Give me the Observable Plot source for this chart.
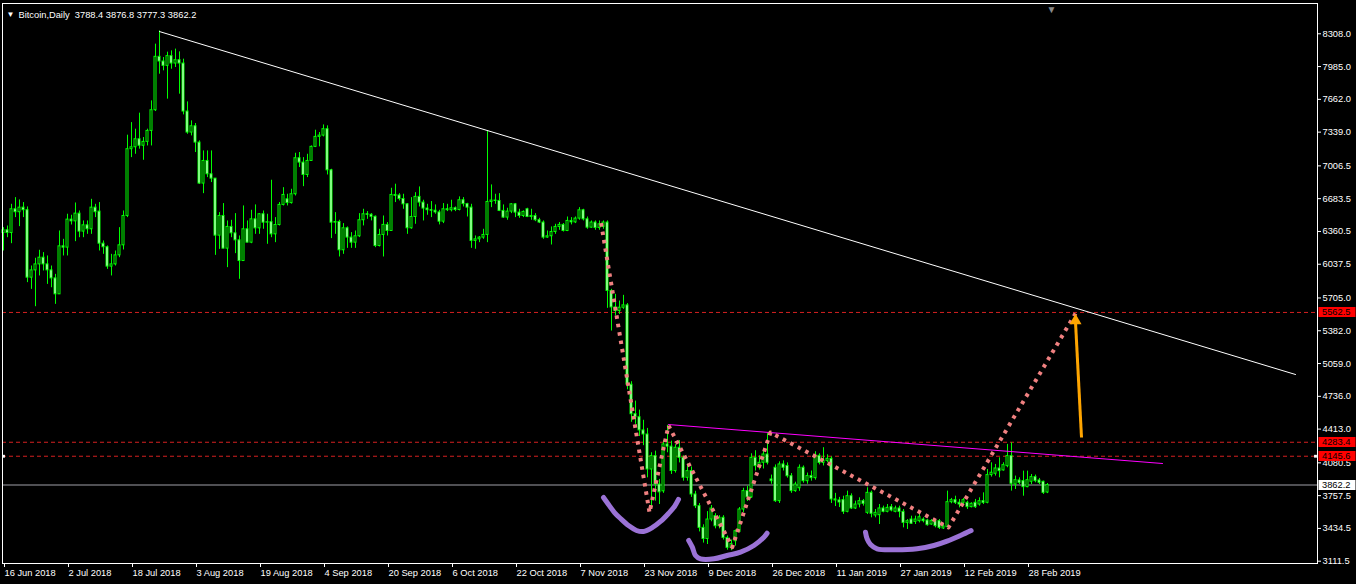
<!DOCTYPE html>
<html><head><meta charset="utf-8">
<script src="https://cdn.jsdelivr.net/npm/d3@7"></script>
<script src="https://cdn.jsdelivr.net/npm/@observablehq/plot@0.6"></script>
<style>
html,body{margin:0;padding:0;background:#000;overflow:hidden;}
#chart svg text{white-space:pre;}
</style></head><body><div id="chart"></div>
<script>
// ---- Daily OHLC bars (bar index 0 = 16 Jun 2018) ----
const opens = [
6345,6372,6345,6579,6550,6595,6570,5905,5977,6036,
6102,6036,5977,5898,5741,6214,6201,6477,6460,6536,
6359,6421,6382,6595,6556,6240,6205,6014,6036,6125,
6224,6513,7171,7190,7269,7205,7243,7351,7555,8081,
8035,7992,8088,8015,8048,8015,7542,7335,7397,7236,
6832,7055,6924,6881,6319,6513,6191,6405,6342,6273,
6069,6382,6250,6480,6391,6530,6447,6452,6332,6424,
6622,6677,6640,6727,7082,7039,6917,7055,7194,7292,
7305,7368,6963,6447,6454,6175,6392,6300,6250,6313,
6471,6530,6525,6505,6217,6326,6425,6365,6720,6715,
6680,6628,6392,6503,6701,6645,6586,6570,6565,6548,
6457,6579,6570,6589,6572,6668,6630,6595,6267,6283,
6300,6326,6651,6665,6661,6563,6497,6556,6628,6546,
6513,6579,6503,6513,6471,6448,6300,6313,6355,6405,
6425,6365,6464,6450,6487,6569,6480,6398,6448,6395,
6405,6448,5774,5612,5576,5609,5632,4850,4560,4530,
4400,4360,4015,4147,3867,3800,4262,4240,4000,4229,
4130,3933,3999,3769,3654,3440,3330,3522,3555,3456,
3539,3341,3243,3308,3400,3621,3802,3740,4130,4048,
4081,4163,3917,4032,3703,4065,4050,3949,3802,3830,
4032,3900,3950,3930,4150,4080,4100,4120,3720,3710,
3713,3598,3752,3631,3670,3703,3588,3785,3562,3565,
3631,3598,3644,3598,3631,3598,3489,3522,3499,3506,
3522,3512,3473,3506,3506,3434,3447,3693,3713,3687,
3687,3687,3644,3687,3670,3703,3687,3960,3973,4025,
4006,4048,4147,3867,3907,3900,3841,3894,3940,3907,
3894,3788.4];
const highs = [
6398,6414,6628,6694,6671,6645,6602,6020,6096,6175,
6152,6119,6020,5938,6365,6283,6530,6520,6641,6562,
6464,6464,6677,6628,6645,6267,6218,6135,6168,6398,
6562,7309,7433,7368,7526,7286,7368,7647,8206,8337,
8074,8127,8140,8157,8130,8058,7637,7450,7424,7253,
7154,7154,7154,6881,6546,6635,6464,6470,6536,6316,
6612,6464,6569,6622,6536,6562,6530,6865,6497,6645,
6792,6727,6776,7131,7138,7088,7121,7203,7358,7335,
7410,7401,6973,6546,6471,6438,6405,6349,6365,6536,
6579,6556,6536,6513,6382,6513,6448,6786,6826,6733,
6727,6635,6694,6743,6799,6668,6628,6655,6622,6569,
6635,6628,6668,6602,6701,6694,6638,6628,6316,6310,
6382,7352,6819,6727,6733,6622,6589,6635,6635,6579,
6563,6589,6579,6536,6490,6464,6365,6405,6431,6448,
6438,6503,6497,6503,6595,6579,6503,6464,6464,6464,
6464,6464,5790,5741,5675,5731,5650,4880,4689,4600,
4500,4420,4180,4196,3917,4300,4450,4294,4260,4300,
4150,4070,4040,3800,3680,3470,3600,3660,3580,3560,
3560,3360,3320,3420,3640,3830,3850,4170,4200,4150,
4200,4370,3960,4060,4090,4100,4080,3975,3890,4060,
4050,3980,4000,4190,4170,4230,4160,4140,3780,3740,
3752,3802,3775,3703,3736,3720,3835,3802,3621,3670,
3654,3670,3670,3654,3654,3621,3522,3555,3555,3572,
3539,3522,3522,3522,3522,3473,3802,3730,3752,3720,
3730,3703,3687,3720,3736,3785,4015,4081,4065,4130,
4081,4262,4278,3950,3933,3999,3999,3966,3960,3927,
3900,3876.8];
const lows = [
6168,6299,6240,6497,6408,6497,5856,5790,5619,5922,
5971,5839,5806,5642,5741,6119,6119,6424,6260,6299,
6299,6332,6332,6497,6168,6135,5987,5922,6020,6102,
6178,6497,7088,7121,7171,7062,7203,7203,7542,7910,
7943,7664,7959,7976,7713,7509,7318,7302,7138,6825,
6733,6891,6842,6125,6184,6191,6004,6299,6142,5889,
6069,6250,6240,6332,6332,6382,6234,6299,6250,6414,
6612,6612,6630,6710,6990,6802,6891,7055,7187,7194,
7292,6917,6290,6332,6109,6135,6194,6194,6194,6300,
6415,6480,6464,6201,6208,6109,6316,6365,6645,6661,
6579,6332,6382,6431,6602,6464,6520,6497,6530,6425,
6438,6556,6553,6556,6563,6602,6503,6194,6185,6250,
6283,6250,6595,6628,6556,6490,6471,6536,6497,6490,
6497,6497,6471,6457,6438,6283,6293,6227,6332,6372,
6355,6359,6425,6438,6471,6464,6382,6392,6372,6372,
6382,5603,5379,5527,5543,5593,4800,4480,4460,4340,
4250,3933,3620,3703,3670,3780,4180,3966,3980,4080,
3900,3900,3740,3630,3400,3290,3276,3500,3430,3430,
3320,3220,3215,3260,3390,3590,3700,3730,4000,4010,
4020,4060,3870,3690,3680,4000,3930,3780,3790,3800,
3880,3870,3900,3910,4060,4050,4080,3680,3650,3640,
3572,3588,3621,3621,3637,3654,3572,3539,3539,3473,
3588,3588,3598,3588,3539,3440,3424,3473,3473,3489,
3489,3457,3466,3440,3424,3424,3440,3677,3670,3637,
3670,3621,3637,3631,3654,3670,3677,3940,3950,3933,
3999,4032,3802,3818,3867,3752,3835,3867,3884,3867,
3769,3777.3];
const closes = [
6372,6345,6579,6550,6595,6570,5905,5977,6036,6102,
6036,5977,5898,5741,6214,6201,6477,6460,6536,6359,
6421,6382,6595,6550,6240,6205,6014,6036,6125,6224,
6513,7171,7190,7269,7205,7243,7351,7555,8081,8035,
7992,8088,8015,8048,8015,7542,7335,7397,7236,6832,
7055,6924,6881,6319,6513,6191,6405,6342,6273,6069,
6382,6250,6480,6391,6530,6447,6452,6332,6424,6622,
6720,6640,6727,7082,7039,6917,7055,7194,7292,7305,
7368,6963,6447,6454,6175,6392,6300,6250,6313,6471,
6530,6525,6505,6217,6326,6425,6365,6720,6712,6680,
6628,6392,6503,6701,6645,6586,6570,6565,6548,6457,
6579,6570,6589,6572,6668,6630,6595,6267,6283,6300,
6326,6651,6665,6661,6563,6497,6556,6628,6546,6513,
6553,6503,6513,6471,6448,6300,6313,6355,6405,6425,
6365,6464,6450,6487,6569,6480,6398,6448,6395,6431,
6448,5774,5612,5576,5609,5632,4850,4560,4530,4400,
4360,4015,4147,3867,3790,4262,4240,4000,4229,4130,
3933,3999,3769,3654,3440,3330,3522,3630,3456,3539,
3341,3243,3280,3407,3621,3802,3740,4130,4048,4081,
4163,4081,3900,3703,4065,4032,3949,3802,3867,4032,
3900,3950,3930,4150,4080,4100,4120,3720,3710,3690,
3598,3752,3631,3670,3703,3677,3785,3578,3588,3631,
3598,3637,3611,3631,3598,3489,3506,3480,3522,3545,
3506,3466,3506,3457,3440,3453,3693,3713,3687,3670,
3713,3644,3677,3644,3703,3687,3960,3983,4025,3999,
4058,4147,3874,3910,3884,3841,3910,3940,3900,3884,
3785,3862.2];

// ---- axes ----
const xTickIndex = [0,16,32,48,64,80,96,112,128,144,160,176,192,208,224,240,256];
const xTickLabels = ["16 Jun 2018","2 Jul 2018","18 Jul 2018","3 Aug 2018","19 Aug 2018","4 Sep 2018",
  "20 Sep 2018","6 Oct 2018","22 Oct 2018","7 Nov 2018","23 Nov 2018","9 Dec 2018","26 Dec 2018",
  "11 Jan 2019","27 Jan 2019","12 Feb 2019","28 Feb 2019"];
const yTicks = [8308.0,7985.0,7662.0,7339.0,7006.5,6683.5,6360.5,6037.5,5705.0,5382.0,5059.0,4736.0,4413.0,4080.5,3757.5,3434.5,3111.5];

// ---- drawn objects (bar index, price) ----
const hLevels = [5562.5, 4283.4, 4145.6];
const trendI = [39, 323];            const trendP = [8330, 4951];
const neckI = [166.25, 289.75];      const neckP = [4458, 4074];
const zigI = [149.4, 161.5, 166.25, 182.2, 191.75, 236.25, 268];
const zigP = [6442, 3591, 4448, 3250, 4380, 3444, 5552];
const cupAI = [150,151.25,152.75,154.25,156.25,158.25,160,162.25,164.25,166.25,167.75,168.75];
const cupAP = [3739,3670,3591,3532,3463,3414,3404,3444,3503,3582,3651,3720];
const cupBI = [171.3,172.2,173,174.25,177.6,180.9,184.25,187.6,190.1,190.9];
const cupBP = [3316,3250,3168,3135,3135,3168,3200,3266,3348,3387];
const cupCI = [215.5,215.9,216.75,218.4,222.6,228.4,232.6,235.9,239.25,241.9];
const cupCP = [3397,3332,3276,3234,3224,3234,3266,3309,3365,3414];
const arrowI = [269.5, 268];         const arrowP = [4330, 5550];

const bars = opens.map((o, i) => ({i, open: o, high: highs[i], low: lows[i], close: closes[i]}));
const last = bars[bars.length - 1];
const rows = (xs, ys) => xs.map((x, k) => ({i: x, price: ys[k]}));
const header = `Bitcoin,Daily  ${last.open.toFixed(1)} ${last.high.toFixed(1)} ${last.low.toFixed(1)} ${last.close.toFixed(1)}`;
const FONT = "'Liberation Sans', Arial, sans-serif";
const LIME = "#00ff00";
const purple = {x: "i", y: "price", stroke: "#9b72d6", strokeWidth: 5, curve: "catmull-rom", strokeLinecap: "round", strokeLinejoin: "round"};

const chart = Plot.plot({
  width: 1356, height: 584,
  marginLeft: 2, marginRight: 39, marginTop: 3, marginBottom: 21,
  style: {background: "#000", color: "#fff", fontFamily: FONT, fontSize: "9.3px", overflow: "visible"},
  x: {type: "linear", domain: [-0.25, 328.5]},
  y: {type: "linear", domain: [3088.8, 8606.5]},
  marks: [
    Plot.ruleY(hLevels, {stroke: "#d42020", strokeDasharray: "4 3"}),
    Plot.ruleY([last.close], {stroke: "#a0a0a8"}),
    Plot.ruleX(bars, {x: "i", y1: "low", y2: "high", stroke: LIME}),
    Plot.rect(bars, {filter: d => d.close >= d.open, x1: d => d.i - 0.25, x2: d => d.i + 0.25, y1: "open", y2: "close", fill: "#000", stroke: LIME}),
    Plot.rect(bars, {filter: d => d.close < d.open, x1: d => d.i - 0.25, x2: d => d.i + 0.25, y1: "open", y2: "close", fill: "#fff", stroke: LIME}),
    Plot.line(rows(trendI, trendP), {x: "i", y: "price", stroke: "#fff", strokeWidth: 1}),
    Plot.line(rows(neckI, neckP), {x: "i", y: "price", stroke: "#ff00ff", strokeWidth: 1}),
    Plot.line(rows(zigI, zigP), {x: "i", y: "price", stroke: "#f08080", strokeWidth: 4, strokeDasharray: "3.5 5", strokeLinecap: "butt"}),
    Plot.line(rows(cupAI, cupAP), purple),
    Plot.line(rows(cupBI, cupBP), purple),
    Plot.line(rows(cupCI, cupCP), purple),
    Plot.link([0], {x1: () => arrowI[0], y1: () => arrowP[0], x2: () => arrowI[1], y2: () => arrowP[1] - 80, stroke: "#ffa500", strokeWidth: 3}),
    Plot.dot([0], {x: () => arrowI[1], y: () => arrowP[1], symbol: "triangle", r: 4.5, dy: 7, fill: "#ffa500", stroke: "none"}),
    Plot.dot([hLevels[2], hLevels[2]], {x: (d, k) => k === 0 ? 0 : 328, y: d => d, symbol: "square", r: 1.6, fill: "#fff"}),
    Plot.text(["\u25BC"], {x: () => bars.length, frameAnchor: "top", dy: 2, fill: "#8a8a8a", fontSize: 10}),
    Plot.axisX({anchor: "bottom", ticks: xTickIndex, tickFormat: d => xTickLabels[xTickIndex.indexOf(d)], tickSize: 4, tickPadding: 2, textAnchor: "start", dx: 1, color: "#fff", label: null, fontSize: 9.3}),
    Plot.axisY({anchor: "right", ticks: yTicks, tickFormat: d => d.toFixed(1), tickSize: 3, tickPadding: 2, color: "#fff", label: null, fontSize: 9.3}),
    Plot.frame({stroke: "#fff"}),
    Plot.text(["\u25BC"], {frameAnchor: "top-left", dx: 8, dy: 8, fill: "#fff", fontSize: 8, textAnchor: "middle"}),
    Plot.text([header], {frameAnchor: "top-left", dx: 16, dy: 8, fill: "#fff", fontSize: 9.3, textAnchor: "start"})
  ]
});

// price boxes on the right axis
const ys = chart.scale("y");
const svg = d3.select(chart);
const boxes = [
  {v: hLevels[0], bg: "#ff0000"},
  {v: hLevels[1], bg: "#ff0000"},
  {v: hLevels[2], bg: "#ff0000"},
  {v: last.close, bg: "#ffffff"}
];
const g = svg.append("g").attr("font-family", FONT).attr("font-size", 9.3).attr("text-anchor", "start");
for (const b of boxes) {
  const yy = Math.round(ys.apply(b.v) + 0.5);
  g.append("rect").attr("x", 1318.5).attr("y", yy - 5).attr("width", 37).attr("height", 10).attr("fill", b.bg);
  g.append("text").attr("x", 1322).attr("y", yy).attr("dy", "0.34em").attr("text-anchor", "start").attr("fill", "#000").text(b.v.toFixed(1));
}
document.getElementById("chart").appendChild(chart);
</script>
</body></html>
